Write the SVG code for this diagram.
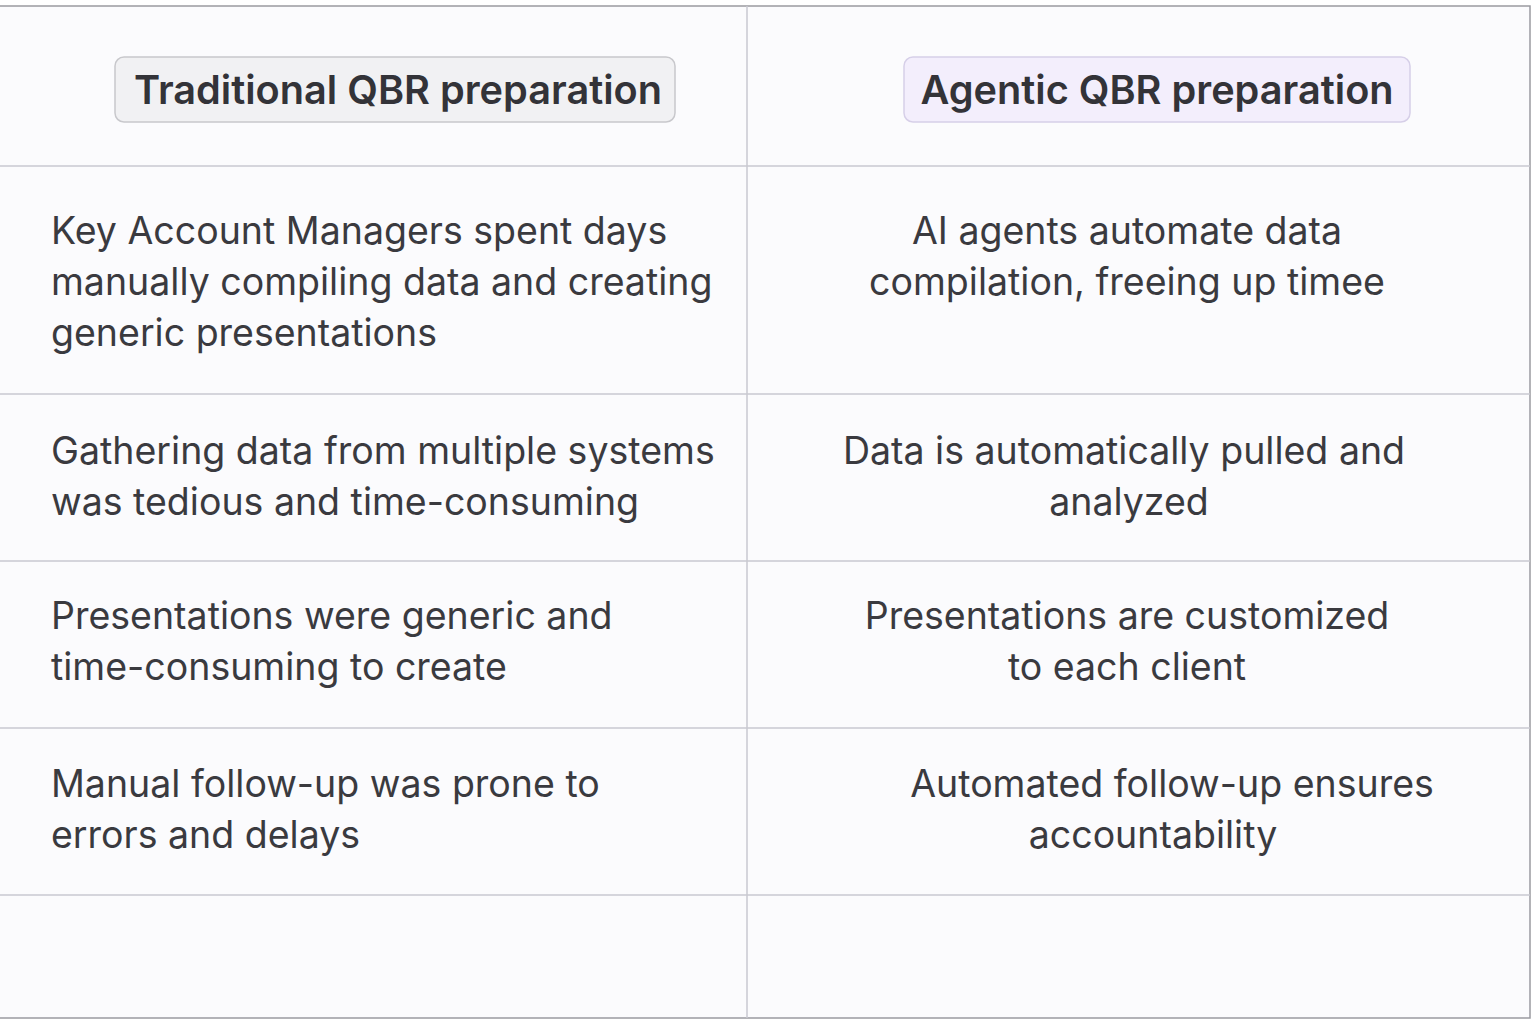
<svg xmlns="http://www.w3.org/2000/svg" width="1536" height="1024" viewBox="0 0 1536 1024">
<style>
.t{font-family:Inter,"Noto Sans",sans-serif;font-size:37.5px;fill:#3a3a3f}
.c{text-anchor:middle}
.h{font-family:Inter,"Noto Sans",sans-serif;font-size:39.7px;font-weight:600;fill:#333338;text-anchor:middle}
.ln{stroke:#c8c8d0;stroke-width:1.5;fill:none}
</style>
<rect width="1536" height="1024" fill="#fff"/>
<rect x="-4" y="6" width="1534" height="1012" fill="#fbfbfd" stroke="#9a9aa0" stroke-width="1.5"/>
<g id="grid">
<line class="ln" x1="747" y1="6" x2="747" y2="1018"/>
<line class="ln" x1="0" y1="166" x2="1530" y2="166"/>
<line class="ln" x1="0" y1="394" x2="1530" y2="394"/>
<line class="ln" x1="0" y1="561" x2="1530" y2="561"/>
<line class="ln" x1="0" y1="728" x2="1530" y2="728"/>
<line class="ln" x1="0" y1="895" x2="1530" y2="895"/>
</g>
<g id="h1"><rect x="115" y="57" width="560" height="65" rx="9" fill="#f1f1f3" stroke="#c8c8cc" stroke-width="1.5"/><text class="h" x="398" y="104">Traditional QBR preparation</text></g>
<g id="h2"><rect x="904" y="57" width="506" height="65" rx="9" fill="#f3eefc" stroke="#d6cfe8" stroke-width="1.5"/><text class="h" x="1157" y="104">Agentic QBR preparation</text></g>
<g id="l1"><text class="t" x="51" y="244">Key Account Managers spent days</text><text class="t" x="51" y="295">manually compiling data and creating</text><text class="t" x="51" y="346">generic presentations</text></g>
<g id="r1"><text class="t c" x="1127" y="244">AI agents automate data</text><text class="t c" x="1127" y="295">compilation, freeing up timee</text></g>
<g id="l2"><text class="t" x="51" y="464">Gathering data from multiple systems</text><text class="t" x="51" y="515">was tedious and time-consuming</text></g>
<g id="r2"><text class="t c" x="1124" y="464">Data is automatically pulled and</text><text class="t c" x="1129" y="515">analyzed</text></g>
<g id="l3"><text class="t" x="51" y="629">Presentations were generic and</text><text class="t" x="51" y="680">time-consuming to create</text></g>
<g id="r3"><text class="t c" x="1127" y="629">Presentations are customized</text><text class="t c" x="1127" y="680">to each client</text></g>
<g id="l4"><text class="t" x="51" y="797">Manual follow-up was prone to</text><text class="t" x="51" y="848">errors and delays</text></g>
<g id="r4"><text class="t c" x="1172" y="797">Automated follow-up ensures</text><text class="t c" x="1153" y="848">accountability</text></g>
</svg>
